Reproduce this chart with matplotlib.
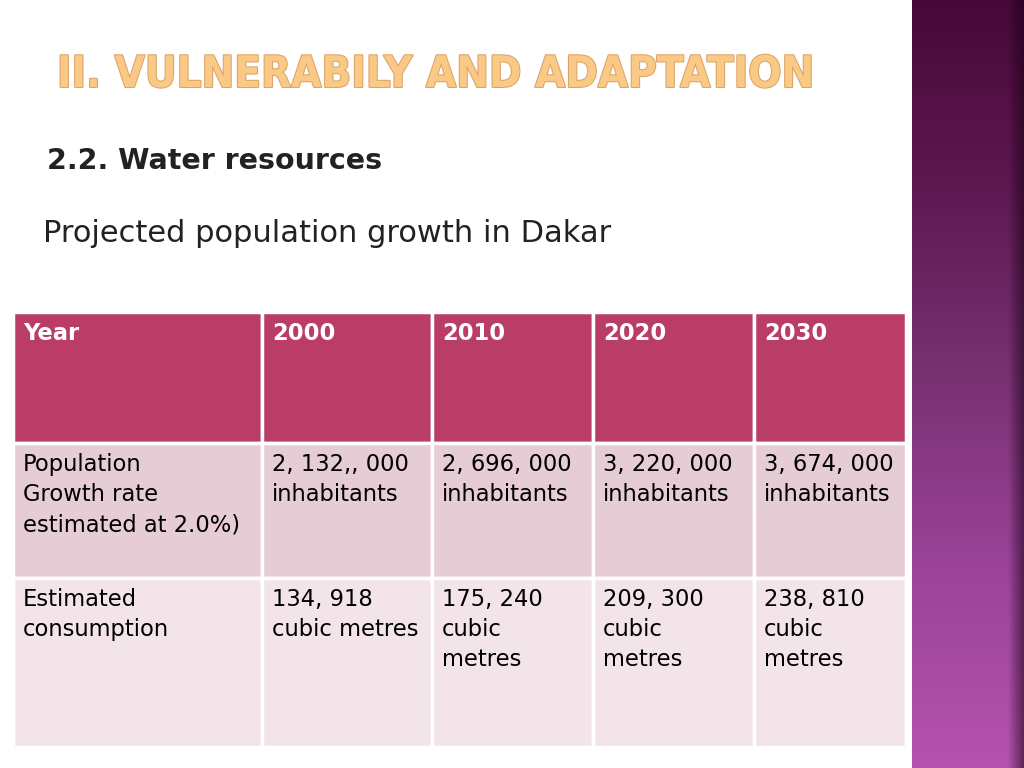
import matplotlib
matplotlib.use("Agg")
import matplotlib.pyplot as plt
import matplotlib.patheffects as pe
import numpy as np
from matplotlib.patches import Rectangle
from matplotlib.colors import LinearSegmentedColormap

# table content
header = ["Year", "2000", "2010", "2020", "2030"]
population = ["Population\nGrowth rate\nestimated at 2.0%)",
              "2, 132,, 000\ninhabitants", "2, 696, 000\ninhabitants",
              "3, 220, 000\ninhabitants", "3, 674, 000\ninhabitants"]
consumption = ["Estimated\nconsumption", "134, 918\ncubic metres",
               "175, 240\ncubic\nmetres", "209, 300\ncubic\nmetres",
               "238, 810\ncubic\nmetres"]
rows = [header, population, consumption]

col_edges = [13, 262, 432, 593, 754, 906]
row_edges = [312, 443, 578, 747]
row_colors = ["#b93d66", "#e6ccd5", "#f2e4e9"]
text_colors = ["white", "black", "black"]
weights = ["bold", "normal", "normal"]

fig = plt.figure(figsize=(10.24, 7.68), dpi=100)
ax = fig.add_axes([0, 0, 1, 1])
ax.set_xlim(0, 1024)
ax.set_ylim(768, 0)
ax.axis("off")

# purple side bar
cmap = LinearSegmentedColormap.from_list("side", ["#480838", "#5e1a52", "#7a3274", "#9c449a", "#b452ad"])
grad = np.linspace(0, 1, 256).reshape(-1, 1)
ax.imshow(grad, cmap=cmap, extent=[912, 1024, 768, 0], aspect="auto", zorder=0)
shade = LinearSegmentedColormap.from_list("sh", [(0, 0, 0, 0), (0.1, 0.0, 0.1, 0.55)])
ax.imshow(np.linspace(0, 1, 32).reshape(1, -1), cmap=shade, extent=[1008, 1024, 768, 0],
          aspect="auto", zorder=1)

# titles
title = ax.text(57, 75, "II. VULNERABILY AND ADAPTATION", family="DejaVu Sans",
                fontstretch="condensed", fontweight="bold", fontsize=38,
                color="#f9c985", va="center", ha="left",
                path_effects=[pe.withStroke(linewidth=1.5, foreground="#dca468")])
# shrink the title so it spans the same width as on the slide
fig.canvas.draw()
w = title.get_window_extent().width
title.set_fontsize(38 * 758 / w)

ax.text(47, 161, "2.2. Water resources", fontsize=20.5, fontweight="bold",
        color="#222222", va="center", ha="left")
ax.text(43, 234, "Projected population growth in Dakar", fontsize=22,
        color="#222222", va="center", ha="left")

# table cells
for r, row in enumerate(rows):
    for c, txt in enumerate(row):
        x0, x1 = col_edges[c], col_edges[c + 1]
        y0, y1 = row_edges[r], row_edges[r + 1]
        ax.add_patch(Rectangle((x0, y0), x1 - x0, y1 - y0, facecolor=row_colors[r],
                               edgecolor="white", linewidth=2.5, zorder=2))
        ax.text(x0 + 10, y0 + 10, txt, fontsize=16.3, color=text_colors[r],
                fontweight=weights[r], va="top", ha="left", linespacing=1.4, zorder=3)

fig.savefig("out.png", dpi=100)
